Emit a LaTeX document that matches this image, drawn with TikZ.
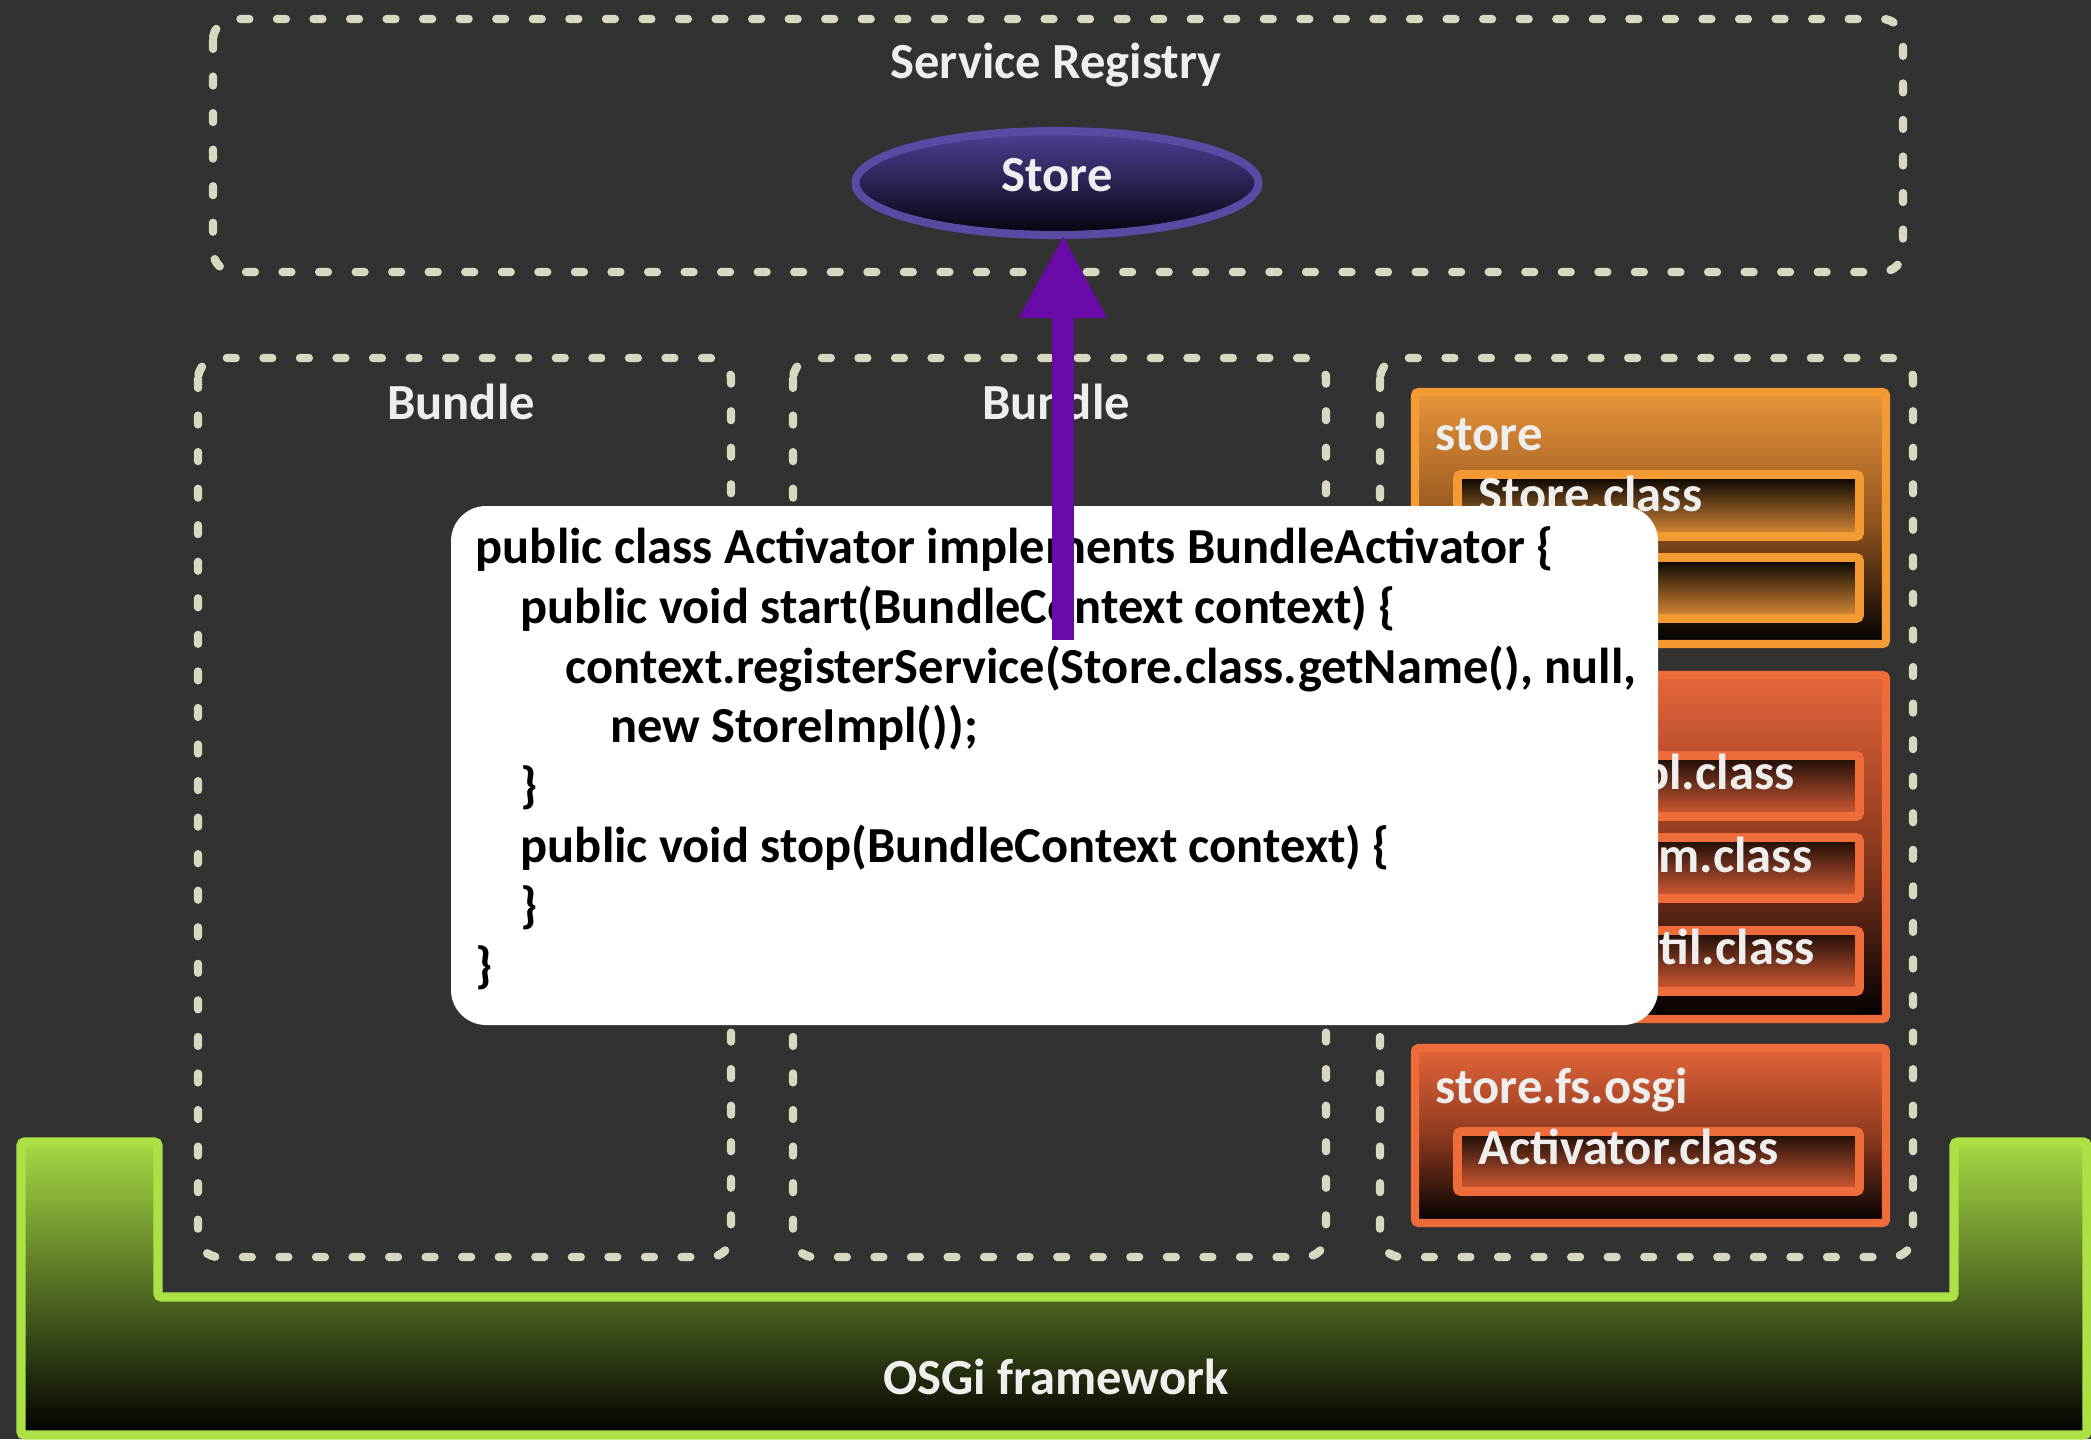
\documentclass[tikz,border=0pt]{standalone}
\usepackage{fontspec}
\setmainfont{Carlito}
\usetikzlibrary{shapes.geometric,arrows.meta}

\definecolor{bgcol}{HTML}{323232}
\definecolor{dashcol}{HTML}{D8D7C0}
\definecolor{txtcol}{HTML}{EEEEEE}
\definecolor{ellborder}{HTML}{574BA3}
\definecolor{elltop}{HTML}{4D4195}
\definecolor{ellbot}{HTML}{06030F}
\definecolor{arrowcol}{HTML}{6A0AA8}
\definecolor{storeorange}{HTML}{F39A33}
\definecolor{storetop}{HTML}{E8943A}
\definecolor{storemid}{HTML}{94561F}
\definecolor{storeinbot}{HTML}{E08D38}
\definecolor{implred}{HTML}{EE6B3A}
\definecolor{impltop}{HTML}{E4653A}
\definecolor{implmid}{HTML}{8E3A1F}
\definecolor{implinbot}{HTML}{D65C35}
\definecolor{osgiborder}{HTML}{ABE145}
\definecolor{osgitop}{HTML}{A6D944}

\begin{document}
\begin{tikzpicture}
        [%%%%%%%%%%%%%%%%%%%%%%%%%%%%%%
        x=0.1mm, y=-0.1mm,
        lbl/.style={text=txtcol, font=\fontsize{14.4}{17}\selectfont\bfseries, inner sep=0pt},
        regbox/.style={draw=dashcol, line width=2.4pt, line cap=round, dash pattern=on 2.5pt off 7.9pt, rounded corners=6pt},
        pkg/.style={line width=2.3pt, rounded corners=1pt},
        cls/.style={line width=2.5pt, rounded corners=1pt},
        codeline/.style={anchor=base west, text=black, font=\fontsize{14.36}{17}\selectfont\bfseries, inner sep=0pt},
        storeell/.style={ellipse, draw=ellborder, line width=2.3pt, top color=elltop, bottom color=ellbot,
          minimum width=4.03cm, minimum height=1.04cm, inner sep=0pt, text depth=4.6pt},
        regarrow/.style={draw=arrowcol, line width=2.2mm, -{Triangle[length=8.3mm, width=8.2mm]}},
        ]%%%%%%%%%%%%%%%%%%%%%%%%%%%%%%
        \useasboundingbox (0,0) rectangle (2091,1439);
        \fill[bgcol] (0,0) rectangle (2091,1439);

        % OSGi framework
        \path[draw=osgiborder, line width=2.6pt, top color=osgitop, bottom color=black, rounded corners=1pt]
          (21,1142) -- (158,1142) -- (158,1297) -- (1954,1297) -- (1954,1142)
          -- (2087,1142) -- (2087,1435) -- (21,1435) -- cycle;
        \node[lbl, anchor=base] (osgi) at (1056,1394) {OSGi framework};

        % Service registry and bundles
        \draw[regbox] (213,19) rectangle (1903,272);
        \node[lbl, anchor=base] (registry) at (1056,78) {Service Registry};
        \foreach \x in {198,793,1380}{
          \draw[regbox] (\x,358) rectangle (\x+533,1257);
        }
        \node[lbl, anchor=base] (bundleA) at (461,419) {Bundle};
        \node[lbl, anchor=base] (bundleB) at (1056,419) {Bundle};

        \node[storeell, lbl] (store) at (1057,183) {Store};

        % package store
        \path[pkg, draw=storeorange, top color=storetop, bottom color=black, middle color=storemid]
          (1415,392) rectangle (1886,644);
        \node[lbl, anchor=base west] (storepkg) at (1435,450) {store};
        \path[cls, draw=storeorange, top color=black, bottom color=storeinbot]
          (1457.5,474.5) rectangle (1859.5,536.5);
        \node[lbl, anchor=base west] (storecls) at (1478,511) {Store.class};
        \path[cls, draw=storeorange, top color=black, bottom color=storeinbot]
          (1457.5,557.5) rectangle (1859.5,618.5);

        % package with the implementation
        \path[pkg, draw=implred, top color=impltop, bottom color=black, middle color=implmid]
          (1415,675) rectangle (1886,1019);
        \foreach \y in {755.5,837.5,930.5}{
          \path[cls, draw=implred, top color=black!90!implred, bottom color=implinbot]
            (1457.5,\y) rectangle (1859.5,\y+61);
        }
        \node[lbl, anchor=base east] (implcls) at (1795,789) {StoreImpl.class};
        \node[lbl, anchor=base east] (itemcls) at (1813,872) {StoreItem.class};
        \node[lbl, anchor=base east] (utilcls) at (1815,964) {StoreUtil.class};

        % package store.fs.osgi
        \path[pkg, draw=implred, top color=impltop, bottom color=black, middle color=implmid]
          (1415,1048) rectangle (1886,1223);
        \node[lbl, anchor=base west] (osgipkg) at (1435,1103) {store.fs.osgi};
        \path[cls, draw=implred, top color=black!90!implred, bottom color=implinbot]
          (1457.5,1131.5) rectangle (1859.5,1191.5);
        \node[lbl, anchor=base west] (actcls) at (1478,1164) {Activator.class};

        % Code
        \fill[white, rounded corners=10pt] (451,506) rectangle (1658,1025);
        \node[codeline] (code1) at (475,563) {public class Activator implements BundleActivator \{};
        \node[codeline] (code2) at (520,623) {public void start(BundleContext context) \{};
        \node[codeline] (code3) at (565,683) {context.registerService(Store.class.getName(), null,};
        \node[codeline] (code4) at (610,742) {new StoreImpl());};
        \node[codeline] (code5) at (520,802) {\}};
        \node[codeline] (code6) at (520,862) {public void stop(BundleContext context) \{};
        \node[codeline] (code7) at (520,922) {\}};
        \node[codeline] (code8) at (475,982) {\}};

        % Registration
        \coordinate (regfoot) at (1063,640);
        \draw[regarrow, shorten >=-0.4mm] (regfoot) -- (regfoot |- store.south);
      \end{tikzpicture}
\end{document}
